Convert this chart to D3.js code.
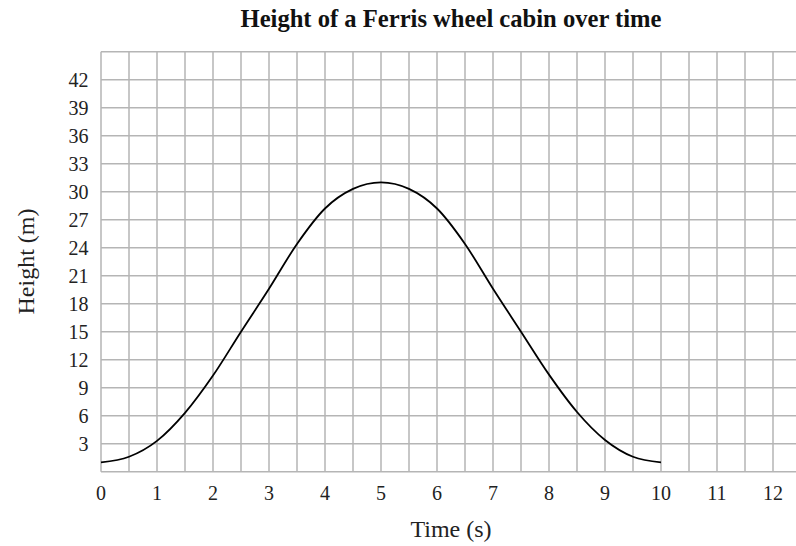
<!DOCTYPE html>
<html>
<head>
<meta charset="utf-8">
<script src="https://d3js.org/d3.v7.min.js"></script>
<style>
  body { margin: 0; background: #fff; }
  text { font-family: "Liberation Serif", "Times New Roman", serif; fill: #222; }
</style>
</head>
<body>
<svg></svg>
<script>
let width = 796;
let height = 546;

// values
const times = [0, 0.5, 1, 1.5, 2, 2.5, 3, 3.5, 4, 4.5, 5, 5.5, 6, 6.5, 7, 7.5, 8, 8.5, 9, 9.5, 10];
const heights = [1, 1.6, 3.3, 6.3, 10.3, 15, 19.6, 24.4, 28.2, 30.3, 31, 30.3, 28.2, 24.4, 19.6, 15, 10.4, 6.4, 3.4, 1.6, 1];
const xTicks = [0, 1, 2, 3, 4, 5, 6, 7, 8, 9, 10, 11, 12];
const yTicks = [3, 6, 9, 12, 15, 18, 21, 24, 27, 30, 33, 36, 39, 42];
const xGrid = d3.range(0, 12.51, 0.5);
const yGrid = d3.range(0, 45.1, 3);

const data = times.map((t, i) => ({t: t, h: heights[i]}));

const x = d3.scaleLinear()
.domain([0, 12.5])
.range([101, 801]);

const y = d3.scaleLinear()
.domain([0, 45])
.range([471.7, 51.7]);

const svg = d3.select("svg")
.attr("width", width)
.attr("height", height);

// grid
svg.append("g")
.attr("stroke", "#b5b5b5")
.attr("stroke-width", 1.5)
.selectAll("line")
.data(xGrid)
.join("line")
.attr("x1", d => x(d))
.attr("x2", d => x(d))
.attr("y1", y(0))
.attr("y2", y(45));

svg.append("g")
.attr("stroke", "#b5b5b5")
.attr("stroke-width", 1.5)
.selectAll("line")
.data(yGrid)
.join("line")
.attr("x1", x(0))
.attr("x2", x(12.5))
.attr("y1", d => y(d))
.attr("y2", d => y(d));

// tick labels
svg.append("g")
.selectAll("text")
.data(xTicks)
.join("text")
.attr("x", d => x(d))
.attr("y", 500)
.attr("text-anchor", "middle")
.style("font-size", "20px")
.text(d => d);

svg.append("g")
.selectAll("text")
.data(yTicks)
.join("text")
.attr("x", 88.5)
.attr("y", d => y(d))
.attr("dy", "0.34em")
.attr("text-anchor", "end")
.style("font-size", "20px")
.text(d => d);

const line = d3.line()
.x(d => x(d.t))
.y(d => y(d.h))
.curve(d3.curveMonotoneX);

svg.append("path")
.datum(data)
.attr("fill", "none")
.attr("stroke", "#000")
.attr("stroke-width", 1.8)
.attr("d", line);

// titles
svg.append("text")
.attr("x", 451)
.attr("y", 26.7)
.attr("text-anchor", "middle")
.style("font-size", "24.6px")
.style("font-weight", "bold")
.style("fill", "#111")
.text("Height of a Ferris wheel cabin over time");

svg.append("text")
.attr("x", 451)
.attr("y", 536.5)
.attr("text-anchor", "middle")
.style("font-size", "24px")
.text("Time (s)");

svg.append("text")
.attr("transform", "translate(33.5,261.5) rotate(-90)")
.attr("text-anchor", "middle")
.style("font-size", "24px")
.text("Height (m)");
</script>
</body>
</html>
